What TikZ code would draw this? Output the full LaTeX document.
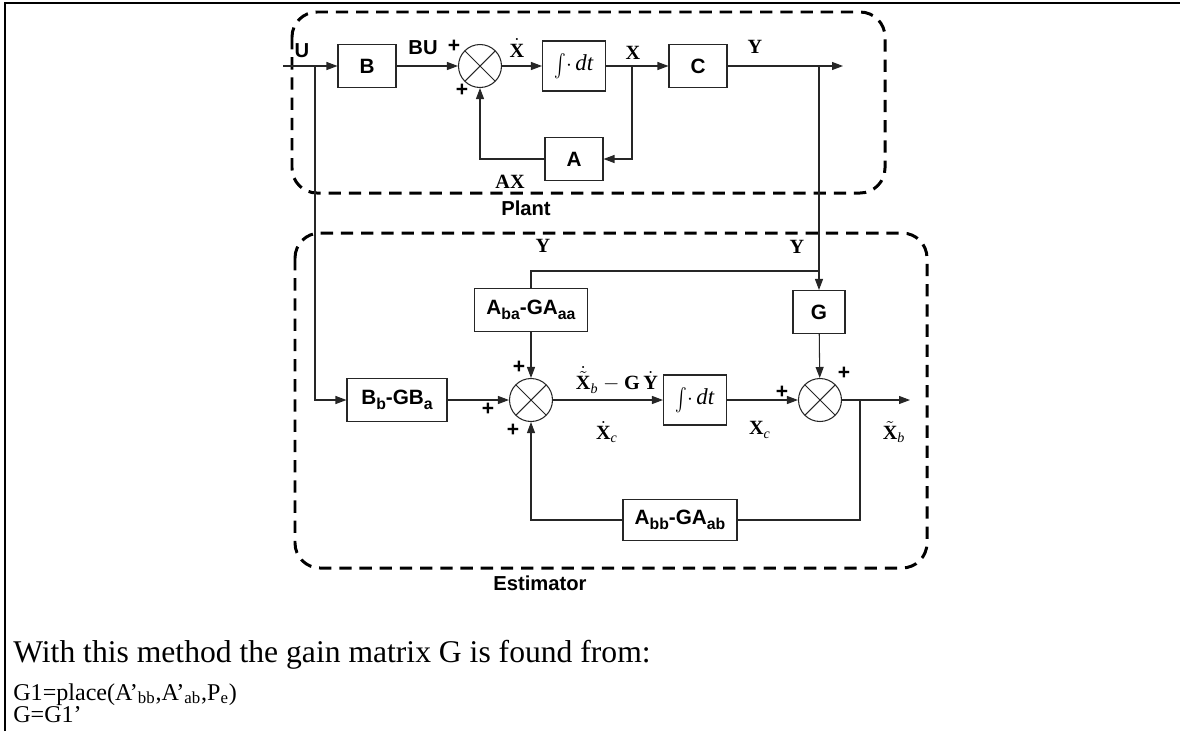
\documentclass[tikz,border=0pt]{standalone}
\usepackage{fontspec}
\setmainfont{Liberation Serif}
\setsansfont{Liberation Sans}
\usepackage{graphicx}
\usepackage{tikz}
\usetikzlibrary{arrows.meta}
\definecolor{diagramInk}{HTML}{000000}
\definecolor{diagramLine}{HTML}{262626}
\newcommand{\subit}[1]{\hbox{\normalfont\itshape\fontsize{8}{8}\selectfont #1}}
\newcommand{\sbs}[1]{\raisebox{-0.45ex}{\fontsize{9}{9}\selectfont #1}}
\newcommand{\intdt}{\raisebox{-0.2ex}{\scalebox{1}[1.3]{$\int$}}$\cdot\,$\textit{dt}}
\tikzset{
    diagram/line/.style={
        draw=diagramLine, line width=0.6pt
    },
    diagram/arrow/.style={
        diagram/line, -{Triangle[length=2.2mm,width=1.6mm]}
    },
    diagram/block/.style={
        rectangle, draw=diagramLine, fill=white, line width=0.6pt,
        font=\sffamily\bfseries\fontsize{11.8}{13}\selectfont,
        text=diagramInk, inner sep=1pt,
        minimum width=11.6mm, minimum height=8.6mm
    },
    diagram/integrator/.style={
        diagram/block, font=\fontsize{13}{14}\selectfont,
        minimum width=12.6mm, minimum height=10mm
    },
    diagram/sum/.style={
        circle, draw=diagramLine, line width=0.6pt,
        minimum size=8.6mm, inner sep=0pt,
        path picture={
            \draw[diagramLine, line width=0.6pt]
                (path picture bounding box.south west) --
                (path picture bounding box.north east)
                (path picture bounding box.north west) --
                (path picture bounding box.south east);
        }
    },
    diagram/tag/.style={
        font=\sffamily\bfseries\fontsize{11.5}{13}\selectfont,
        text=diagramInk, inner sep=0pt
    },
    diagram/sign/.style={
        diagram/tag, font=\sffamily\bfseries\fontsize{12}{13}\selectfont
    },
    diagram/signal/.style={
        font=\bfseries\fontsize{11.5}{13}\selectfont,
        text=diagramInk, inner sep=0pt
    },
    diagram/region/.style={
        draw=diagramInk, line width=1.7pt,
        dash pattern=on 7pt off 4.5pt, rounded corners=5mm
    },
    diagram/frame/.style={
        draw=diagramInk, line width=1.3pt
    },
    diagram/note/.style={
        font=\fontsize{18}{21}\selectfont, text=diagramInk,
        anchor=base west, inner sep=0pt
    },
    diagram/small note/.style={
        diagram/note, font=\fontsize{13.7}{16}\selectfont
    }
}

\begin{document}
\begin{tikzpicture}[x=0.02cm, y=-0.02cm]
    \useasboundingbox (0,0) rectangle (1180,731);
    \draw[diagram/frame] (5,731) -- (5,3) -- (1180,3);

    % plant
    \draw[diagram/region] (292,12) rectangle (885,193);
    \node[diagram/block] (B) at (367,66) {B};
    \node[diagram/sum] (sumx) at (480,66) {};
    \node[diagram/integrator] (intx) at (574,66) {\intdt};
    \node[diagram/block] (C) at (698,66) {C};
    \node[diagram/block] (A) at (574,159) {A};
    \coordinate (uin) at (283,66);
    \coordinate (ubranch) at (315,66);
    \coordinate (xbranch) at (632,66);
    \coordinate (ybranch) at (819,66);
    \coordinate (yout) at (843,66);

    \node[diagram/tag] (lblu) at (302,51) {U};
    \node[diagram/tag] (lblbu) at (423,48) {BU};
    \node[diagram/sign] (plusbu) at (454,46) {+};
    \node[diagram/sign] (plusax) at (462,90) {+};
    \node[diagram/signal] (lblxdot) at (517,48) {$\dot{\hbox{X}}$};
    \node[diagram/signal] (lblx) at (633,53) {X};
    \node[diagram/signal] (lbly) at (755,47) {Y};
    \node[diagram/signal] (lblax) at (510,182) {AX};
    \node[diagram/tag] (lblplant) at (526,208) {Plant};

    % estimator
    \draw[diagram/region] (295,233) rectangle (927,568);
    \node[diagram/block, minimum width=22.6mm] (Aba) at (531,310)
        {A\sbs{ba}-GA\sbs{aa}};
    \node[diagram/block, minimum width=10.4mm] (G) at (819,312) {G};
    \node[diagram/block, minimum width=20mm] (Bb) at (397,400)
        {B\sbs{b}-GB\sbs{a}};
    \node[diagram/sum] (sume) at (531,400) {};
    \node[diagram/integrator] (inte) at (695,400) {\intdt};
    \node[diagram/sum] (sumo) at (820,400) {};
    \node[diagram/block, minimum width=22.8mm, minimum height=8.2mm] (Abb)
        at (680,520) {A\sbs{bb}-GA\sbs{ab}};
    \coordinate (yfork) at (819,271);
    \coordinate (xbbranch) at (860,400);
    \coordinate (xbout) at (910,400);

    \node[diagram/signal] (lblyleft) at (543,246) {Y};
    \node[diagram/signal] (lblyright) at (797,247) {Y};
    \node[diagram/sign] (plusaba) at (519,367) {+};
    \node[diagram/sign] (plusbb) at (488,409) {+};
    \node[diagram/sign] (plusabb) at (513,430) {+};
    \node[diagram/signal] (lblerr) at (617,380)
        {$\dot{\tilde{\hbox{X}}}_{\subit{b}}-\hbox{G}\,\dot{\hbox{Y}}$};
    \node[diagram/signal] (lblxcdot) at (607,432) {$\dot{\hbox{X}}_{\subit{c}}$};
    \node[diagram/signal] (lblxc) at (760,430) {$\hbox{X}_{\subit{c}}$};
    \node[diagram/sign] (plusxc) at (782,392) {+};
    \node[diagram/sign] (plusg) at (844,373) {+};
    \node[diagram/signal] (lblxb) at (894,432) {$\tilde{\hbox{X}}_{\subit{b}}$};
    \node[diagram/tag] (lblest) at (540,583) {Estimator};

    % connectors
    \draw[diagram/arrow] (uin) -- (B);
    \draw[diagram/arrow] (ubranch) |- (Bb.west);
    \draw[diagram/arrow] (B) -- (sumx);
    \draw[diagram/arrow] (sumx) -- (intx);
    \draw[diagram/arrow] (intx) -- (C);
    \draw[diagram/arrow] (xbranch) |- (A.east);
    \draw[diagram/arrow] (A.west) -| (sumx.south);
    \draw[diagram/arrow] (C) -- (yout);
    \draw[diagram/line] (ybranch) -- (yfork);
    \draw[diagram/arrow] (yfork) -- (G);
    \draw[diagram/line] (yfork) -| (Aba.north);
    \draw[diagram/arrow] (Aba) -- (sume);
    \draw[diagram/arrow] (Bb) -- (sume);
    \draw[diagram/arrow] (sume) -- (inte);
    \draw[diagram/arrow] (inte) -- (sumo);
    \draw[diagram/arrow] (G) -- (sumo);
    \draw[diagram/arrow] (sumo) -- (xbout);
    \draw[diagram/line] (xbbranch) |- (Abb.east);
    \draw[diagram/arrow] (Abb.west) -| (sume.south);

    % text below
    \node[diagram/note] (note) at (13,662)
        {With this method the gain matrix G is found from:};
    \node[diagram/small note] (noteplace) at (13,700)
        {G1=place(A’\textsubscript{bb},A’\textsubscript{ab},P\textsubscript{e})};
    \node[diagram/small note] (notegain) at (13,722) {G=G1’};
\end{tikzpicture}
\end{document}
